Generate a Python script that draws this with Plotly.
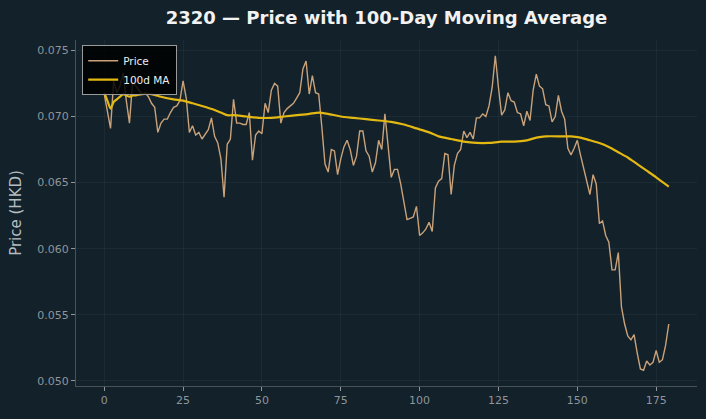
import plotly.graph_objects as go

price = [
    0.0717, 0.0705, 0.0691, 0.0727, 0.0718, 0.0723, 0.0733, 0.0712, 0.0695, 0.0726,
    0.0723, 0.0720, 0.0717, 0.0718, 0.0715, 0.0710, 0.0707, 0.0688, 0.0695, 0.0698,
    0.0698, 0.0703, 0.0707, 0.0708, 0.0712, 0.0727, 0.0714, 0.0688, 0.0693, 0.0686,
    0.0688, 0.0683, 0.0687, 0.0690, 0.0699, 0.0685, 0.0680, 0.0668, 0.0639, 0.0679,
    0.0683, 0.0713, 0.0695, 0.0695, 0.0694, 0.0694, 0.0703, 0.0667, 0.0686, 0.0689,
    0.0687, 0.0710, 0.0703, 0.0720, 0.0725, 0.0723, 0.0695, 0.0703, 0.0706, 0.0708,
    0.0710, 0.0714, 0.0718, 0.0736, 0.0742, 0.0717, 0.0731, 0.0718, 0.0717, 0.0692,
    0.0664, 0.0658, 0.0675, 0.0674, 0.0656, 0.0668, 0.0677, 0.0682, 0.0675, 0.0663,
    0.0670, 0.0689, 0.0689, 0.0674, 0.0670, 0.0658, 0.0665, 0.0682, 0.0675, 0.0702,
    0.0676, 0.0654, 0.0660, 0.0660, 0.0649, 0.0634, 0.0622, 0.0623, 0.0624, 0.0632,
    0.0610, 0.0612, 0.0615, 0.0620, 0.0613, 0.0646, 0.0651, 0.0653, 0.0672, 0.0671,
    0.0641, 0.0663, 0.0672, 0.0675, 0.0689, 0.0684, 0.0688, 0.0683, 0.0699, 0.0699,
    0.0702, 0.0700, 0.0708, 0.0722, 0.0746, 0.0722, 0.0701, 0.0705, 0.0718, 0.0712,
    0.0711, 0.0703, 0.0702, 0.0693, 0.0704, 0.0697, 0.0720, 0.0732, 0.0723, 0.0721,
    0.0709, 0.0708, 0.0696, 0.0700, 0.0716, 0.0704, 0.0698, 0.0676, 0.0671, 0.0676,
    0.0682, 0.0671, 0.0661, 0.0651, 0.0641, 0.0656, 0.0649, 0.0619, 0.0621, 0.0610,
    0.0605, 0.0584, 0.0584, 0.0597, 0.0556, 0.0543, 0.0534, 0.0531, 0.0535, 0.0521,
    0.0509, 0.0508, 0.0515, 0.0512, 0.0514, 0.0523, 0.0514, 0.0516, 0.0527, 0.0543,
]
days = list(range(len(price)))

ma_days = [0, 1, 2, 3, 4, 5, 6, 7, 8, 9, 10, 12, 15, 18, 22, 25, 28, 31, 35, 37, 39,
           41, 45, 49, 53, 57, 61, 65, 68, 71, 75, 79, 83, 87, 91, 95, 99, 103, 106,
           110, 114, 118, 122, 126, 130, 134, 137, 140, 145, 148, 151, 154, 157, 160,
           163, 166, 169, 172, 175, 179]
ma_vals = [0.0718, 0.0712, 0.0706, 0.0711, 0.0713, 0.0715, 0.0717, 0.0716, 0.0715,
           0.0716, 0.0716, 0.0717, 0.0717, 0.0715, 0.0713, 0.0712, 0.0710, 0.0708,
           0.0705, 0.0703, 0.0701, 0.0701, 0.0700, 0.0699, 0.0699, 0.0700, 0.0701,
           0.0702, 0.0703, 0.0702, 0.0700, 0.0699, 0.0698, 0.0697, 0.0696, 0.0694,
           0.0691, 0.0688, 0.0685, 0.0683, 0.0681, 0.0680, 0.0680, 0.0681, 0.0681,
           0.0682, 0.0684, 0.0685, 0.0685, 0.0685, 0.0684, 0.0682, 0.0680, 0.0677,
           0.0673, 0.0669, 0.0664, 0.0659, 0.0654, 0.0647]

x_ticks = [0, 25, 50, 75, 100, 125, 150, 175]
y_ticks = [0.050, 0.055, 0.060, 0.065, 0.070, 0.075]

BG = "#12212a"
GRID = "rgba(255,255,255,0.045)"
TICK = "#8f959a"

fig = go.Figure()
fig.add_trace(go.Scatter(x=days, y=price, mode="lines", name="Price",
                         line=dict(color="#c9a27a", width=1.4)))
fig.add_trace(go.Scatter(x=ma_days, y=ma_vals, mode="lines", name="100d MA",
                         line=dict(color="#e3b812", width=2.2, shape="spline", smoothing=0.6)))

fig.update_layout(
    width=706, height=419,
    margin=dict(l=76, r=9, t=40, b=33),
    paper_bgcolor=BG, plot_bgcolor=BG,
    font=dict(family="DejaVu Sans", color=TICK, size=11),
    title=dict(text="<b>2320 — Price with 100-Day Moving Average</b>",
               x=0.5, xref="paper", xanchor="center", y=0.957, yanchor="middle",
               font=dict(family="DejaVu Sans", size=18, color="#f2f2f2")),
    legend=dict(x=0.01, y=0.985, xanchor="left", yanchor="top",
                bgcolor="rgba(0,0,0,0.85)", bordercolor="#9a9a9a", borderwidth=1,
                font=dict(size=10.5, color="#eeeeee"),
                itemwidth=30, tracegroupgap=0),
    showlegend=True,
)
fig.update_xaxes(range=[-8.95, 187.95], tickvals=x_ticks, ticks="outside", ticklen=4,
                 tickcolor=TICK, showgrid=True, gridcolor=GRID, zeroline=False,
                 showline=True, linecolor="#4a5257", linewidth=1,
                 tickfont=dict(color=TICK, size=11))
fig.update_yaxes(range=[0.04961, 0.07579], tickvals=y_ticks, tickformat=".3f",
                 ticks="outside", ticklen=4, tickcolor=TICK, showgrid=True,
                 gridcolor=GRID, zeroline=False, showline=True, linecolor="#4a5257",
                 linewidth=1, tickfont=dict(color=TICK, size=11),
                 title=dict(text="Price (HKD)", font=dict(size=15, color="#b6bcc0"),
                            standoff=12))

fig.write_html("out.html")
